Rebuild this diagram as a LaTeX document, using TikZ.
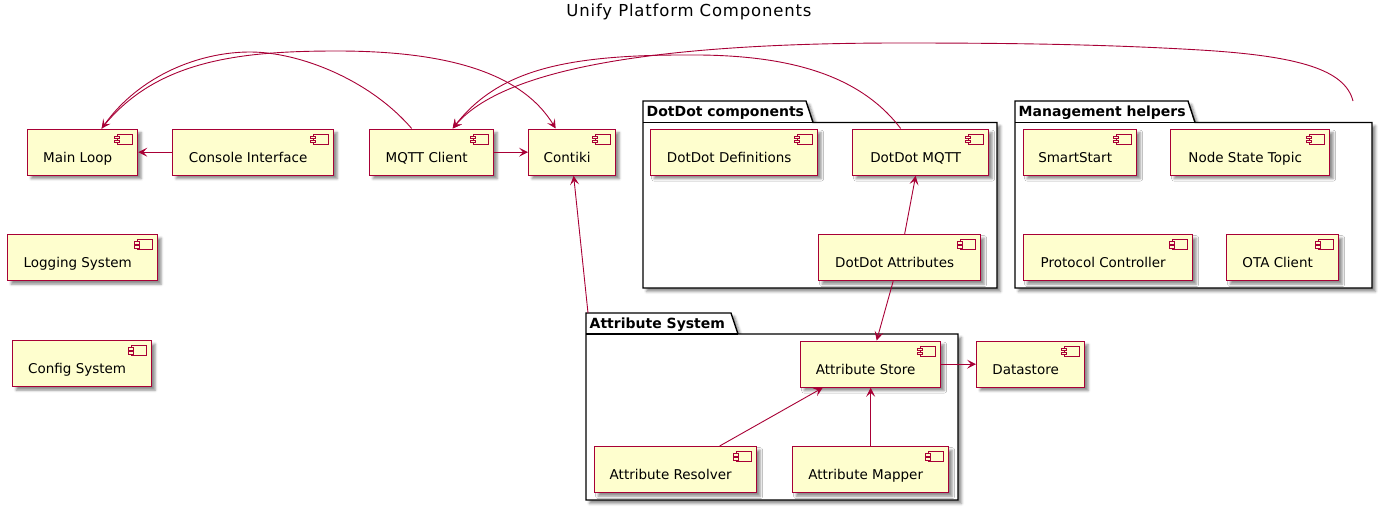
\documentclass[tikz,border=0pt]{standalone}
\usepackage{fontspec}
\setmainfont{DejaVu Sans}
\newfontfamily\titlefont[LetterSpace=5]{DejaVu Sans}
\usetikzlibrary{shadows.blur,arrows.meta,calc}
\definecolor{pred}{HTML}{A80036}
\definecolor{pfill}{HTML}{FEFECE}
\tikzset{
  shd/.style={blur shadow={shadow xshift=3.5pt, shadow yshift=-3.5pt, shadow blur radius=2.5pt, shadow opacity=45}},
  comp/.style={draw=pred, fill=pfill, line width=1.3pt, inner sep=0pt, minimum height=46pt, shd},
  lbl/.style={font=\fontsize{13.5}{16}\selectfont, inner sep=0pt, anchor=base},
  icon/.style={draw=pred, fill=pfill, line width=0.9pt},
  edge/.style={draw=pred, line width=0.9pt, -{Stealth[length=9pt,width=9pt,inset=4pt]}},
  pkg/.style={draw=black, fill=white, line width=1.4pt, shd},
  pkglbl/.style={font=\bfseries\fontsize{14}{16}\selectfont, inner sep=0pt, anchor=base west},
}
\newcommand\compbox[5]{%
  \node[comp, minimum width={#3-#2}, anchor=north west] (#1) at (#2,#4) {};
  \node[lbl] (#1-t) at ($(#1.center)+(-5,10)$) {#5};
  \draw[icon] ($(#1.north east)+(-21,5.5)$) rectangle ++(15,10);
  \draw[icon] ($(#1.north east)+(-24,7.8)$) rectangle ++(5.5,2.4);
  \draw[icon] ($(#1.north east)+(-24,11.6)$) rectangle ++(5.5,2.4);
}
\newcommand\pkgbox[7]{% name x1 x2 ytab ybody ybottom tabright
  \draw[pkg] (#2,#4) -- (#7,#4) -- ($(#7,#5)+(7,0)$) -- (#3,#5) -- (#3,#6) -- (#2,#6) -- cycle;
  \draw[black, line width=1.4pt] (#2,#5) -- ($(#7,#5)+(7,0)$);
}
\begin{document}
\begin{tikzpicture}[x=1pt,y=-1pt]
\useasboundingbox (0,0) rectangle (1389,506);
\node[font=\titlefont\fontsize{16.5}{19}\selectfont, inner sep=0pt, anchor=base] (title) at (689,16.5) {Unify Platform Components};

% packages
\pkgbox{dd}{643}{997}{101}{122.5}{288}{806}
\node[pkglbl] (ddlbl) at (646.5,116) {DotDot components};
\pkgbox{mh}{1015}{1372}{101}{122.5}{288}{1188}
\node[pkglbl] (mhlbl) at (1018.5,116) {Management helpers};
\pkgbox{as}{586}{958}{313}{334}{500}{731}
\node[pkglbl] (aslbl) at (589.5,328.3) {Attribute System};
\coordinate (mgmt) at (1353,101);
\coordinate (attrsys) at (588,313);

% components
\compbox{main}{27}{137}{128.5}{Main Loop}
\compbox{console}{172}{333}{128.5}{Console Interface}
\compbox{mqtt}{369}{493}{128.5}{MQTT Client}
\compbox{contiki}{528}{615}{128.5}{Contiki}
\compbox{dddef}{650}{817}{128.5}{DotDot Definitions}
\compbox{ddmqtt}{852}{988}{128.5}{DotDot MQTT}
\compbox{smart}{1023}{1136}{128.5}{SmartStart}
\compbox{nst}{1170}{1329}{128.5}{Node State Topic}
\compbox{log}{7}{157}{234}{Logging System}
\compbox{ddattr}{818}{980}{234}{DotDot Attributes}
\compbox{pc}{1023}{1192}{234}{Protocol Controller}
\compbox{ota}{1226}{1338}{234}{OTA Client}
\compbox{config}{12}{151}{340}{Config System}
\compbox{store}{800}{940}{340.5}{Attribute Store}
\compbox{datastore}{976}{1084}{340.5}{Datastore}
\compbox{resolver}{594}{756}{446}{Attribute Resolver}
\compbox{mapper}{792}{948}{446}{Attribute Mapper}

% connectors
\draw[edge] (console.west) -- (main.east);
\draw[edge] (mqtt.east) -- (contiki.west);
\draw[edge] (store.east) -- (datastore.west);
\draw[edge] (mapper.north) -- (store.south);
\draw[edge] ([xshift=44pt]resolver.north) -- ([xshift=-48pt]store.south);
\draw[edge] ([xshift=5pt]ddattr.north) -- ([xshift=-5pt]ddmqtt.south);
\draw[edge] ([xshift=-6.5pt]ddattr.south) -- ([xshift=6pt]store.north);
\draw[edge] (attrsys) -- ([xshift=1.5pt]contiki.south);
\draw[edge] ([xshift=-20pt]mqtt.north) .. controls (370,80) and (300,52) .. (250,52)
  .. controls (200,52) and (140,75) .. ([xshift=19pt]main.north);
\draw[edge] ([xshift=19pt]main.north) .. controls (155,60) and (240,51) .. (337,51)
  .. controls (440,51) and (520,70) .. ([xshift=-16.5pt]contiki.north);
\draw[edge] ([xshift=-20pt]ddmqtt.north) .. controls (860,75) and (790,56) .. (700,55)
  .. controls (570,54) and (500,68) .. ([xshift=21pt]mqtt.north);
\draw[edge] (mgmt) .. controls (1345,70) and (1300,56) .. (1200,50)
  .. controls (1100,44) and (1000,43) .. (900,43)
  .. controls (700,43) and (510,60) .. ([xshift=21pt]mqtt.north);
\end{tikzpicture}
\end{document}
